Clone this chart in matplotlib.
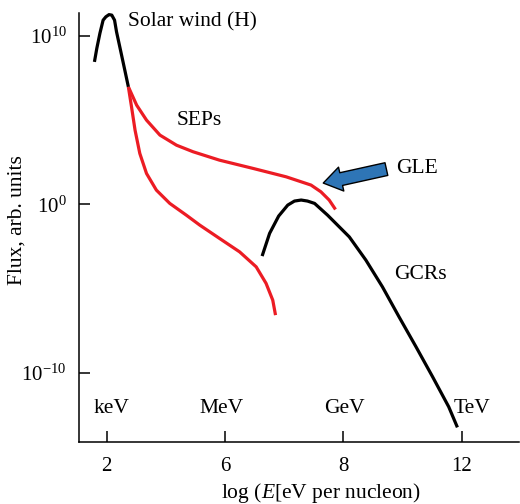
import numpy as np
import matplotlib
matplotlib.use("Agg")
import matplotlib.pyplot as plt

# Schematic spectrum, x = log10(E / eV per nucleon), y = log10(flux)
solar_wind_x = [2.69, 2.75, 2.83, 2.91, 2.98, 3.06, 3.13, 3.20, 3.25, 3.36, 3.46, 3.55]
solar_wind_y = [8.47, 9.27, 10.18, 10.95, 11.15, 11.28, 11.25, 10.95, 10.26, 9.07, 7.98, 6.99]

sep_upper_x = [3.55, 3.76, 4.01, 4.35, 4.77, 5.19, 5.86, 6.71, 7.55, 8.18, 8.43, 8.64, 8.80]
sep_upper_y = [6.99, 5.90, 5.01, 4.12, 3.52, 3.13, 2.63, 2.14, 1.64, 1.15, 0.75, 0.26, -0.30]

sep_lower_x = [3.55, 3.63, 3.72, 3.84, 4.01, 4.26, 4.60, 5.02, 5.36, 5.86, 6.37, 6.79, 7.04, 7.21, 7.28]
sep_lower_y = [6.99, 5.80, 4.41, 3.03, 1.84, 0.85, 0.06, -0.64, -1.23, -2.02, -2.82, -3.71, -4.69, -5.69, -6.58]

gcr_x = [6.94, 7.13, 7.36, 7.59, 7.76, 7.93, 8.09, 8.27, 8.60, 9.15, 9.57, 9.99, 10.41, 10.84, 11.26, 11.67, 11.89]
gcr_y = [-3.07, -1.72, -0.69, -0.04, 0.20, 0.26, 0.20, 0.06, -0.64, -1.93, -3.31, -4.90, -6.68, -8.46, -10.24, -12.03, -13.25]

gle_tail = (10.09, 2.10)
gle_head = (8.49, 1.27)

band_names = ["keV", "MeV", "GeV", "TeV"]
band_x = [2.66, 5.36, 8.52, 11.79]

tick_pos = [3, 6, 9, 12]
tick_labels = ["2", "6", "8", "12"]

plt.rcParams['font.family'] = ['Liberation Serif', 'DejaVu Serif']
plt.rcParams['mathtext.fontset'] = 'custom'
plt.rcParams['mathtext.rm'] = 'Liberation Serif'
plt.rcParams['mathtext.it'] = 'Liberation Serif:italic'

red = '#ec1c24'
blue = '#2e75b6'
lw = 2.3

fig = plt.figure(figsize=(5.2, 5.04), dpi=100)
ax = fig.add_axes([0.152, 0.123, 0.846, 0.851])

def pw(v):
    return 10.0 ** np.asarray(v)

line_kw = dict(lw=lw, solid_capstyle='butt', solid_joinstyle='round')
ax.plot(sep_upper_x, pw(sep_upper_y), color=red, **line_kw)
ax.plot(sep_lower_x, pw(sep_lower_y), color=red, **line_kw)
ax.plot(solar_wind_x, pw(solar_wind_y), color='black', **line_kw)
ax.plot(gcr_x, pw(gcr_y), color='black', **line_kw)

ax.annotate("", xy=(gle_head[0], 10 ** gle_head[1]),
            xytext=(gle_tail[0], 10 ** gle_tail[1]),
            arrowprops=dict(arrowstyle="simple,head_length=1.2,head_width=1.6,tail_width=0.85",
                            fc=blue, ec='black', lw=1.0, shrinkA=0, shrinkB=0,
                            mutation_scale=11))

fs = 15.5
ax.text(3.54, 10 ** 10.86, "Solar wind (H)", fontsize=fs, va='center', ha='left')
ax.text(4.77, 10 ** 5.01, "SEPs", fontsize=fs, va='center', ha='left')
ax.text(10.33, 10 ** 2.14, "GLE", fontsize=fs, va='center', ha='left')
ax.text(10.29, 10 ** -4.16, "GCRs", fontsize=fs, va='center', ha='left')
for name, bx in zip(band_names, band_x):
    ax.text(bx, 10 ** -12.12, name, fontsize=fs, va='center', ha='left')

ax.set_yscale('log')
ax.set_xlim(2.30, 13.45)
ax.set_ylim(10 ** -14.12, 10 ** 11.37)
ax.set_yticks([1e10, 1e0, 1e-10])
ax.set_yticklabels([r"$10^{10}$", r"$10^{0}$", r"$10^{-10}$"])
ax.yaxis.set_minor_locator(matplotlib.ticker.NullLocator())
ax.set_xticks(tick_pos)
ax.set_xticklabels(tick_labels)
ax.tick_params(direction='in', length=8, width=1.1, labelsize=15)
ax.tick_params(axis='x', pad=11)
ax.tick_params(axis='y', pad=9)

for s in ['top', 'right']:
    ax.spines[s].set_visible(False)
for s in ['left', 'bottom']:
    ax.spines[s].set_linewidth(1.1)

ax.set_ylabel("Flux, arb. units", fontsize=15.5)
ax.yaxis.set_label_coords(-0.12, 0.517)
ax.set_xlabel(r"log ($E$[eV per nucleon)", fontsize=15.5)
ax.xaxis.set_label_coords(0.549, -0.091)

fig.savefig("out.png", dpi=100)
